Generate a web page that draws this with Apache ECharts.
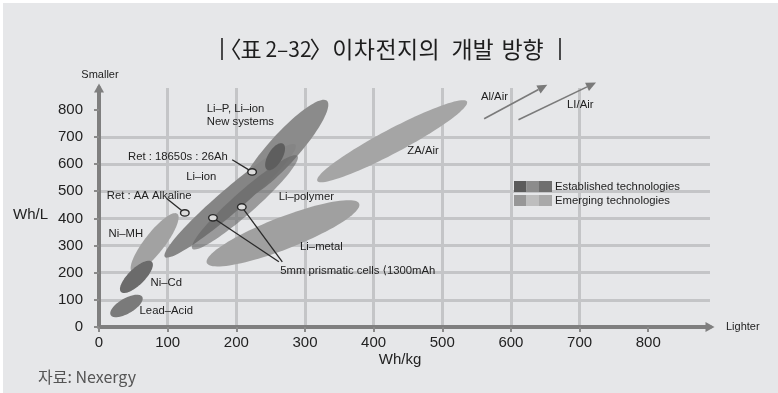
<!DOCTYPE html>
<html>
<head>
<meta charset="utf-8">
<script src="https://cdn.jsdelivr.net/npm/echarts@6/dist/echarts.min.js"></script>
<style>html,body{margin:0;padding:0;background:#fff}#c{width:778px;height:393px}</style>
</head>
<body>
<div id="c"></div>
<script>
// ---------- data ----------
const xTicks = [0, 100, 200, 300, 400, 500, 600, 700, 800];
const yTicks = [0, 100, 200, 300, 400, 500, 600, 700, 800];

// ellipses: tips of the long axis (Wh/kg, Wh/L) and half thickness (Wh/L)
const ellipseNames = ['Li–P, Li–ion New systems', 'Li–ion', 'Li–polymer', '18650s 26Ah', 'Li–metal', 'Ni–MH', 'Ni–Cd', 'Lead–Acid', 'ZA/Air'];
const ellipseTipA = [[205, 476], [96, 258], [136, 288], [245, 579], [157, 236], [48, 203], [32, 129], [17, 44], [318, 538]];
const ellipseTipB = [[332, 833], [286, 671], [289, 630], [268, 675], [379, 454], [114, 417], [77, 240], [63, 111], [536, 830]];
const ellipseHalfWidth = [55, 44, 41, 26, 59, 37, 30, 28, 44];

// reference points (small circles) and where their leader lines go
const markerNames = ['Ret : AA Alkaline', 'Ret : 18650s : 26Ah', '5mm prismatic cells', '5mm prismatic cells'];
const markerPoints = [[125, 420], [223, 571], [166, 402], [208, 442]];
const leaderEnds = [[99, 472], [194, 616], [262, 240], [267, 240]];

// arrows for Al/Air and Li/Air
const arrowNames = ['Al/Air', 'LI/Air'];
const arrowStarts = [[561, 767], [611, 763]];
const arrowEnds = [[653, 892], [724, 900]];

// text annotations
const labelTexts = ['Li–P, Li–ion\nNew systems', 'Ret : 18650s : 26Ah', 'Li–ion', 'Ret : AA Alkaline', 'Li–polymer', 'Ni–MH', 'Li–metal', '5mm prismatic cells ⟨1300mAh', 'Ni–Cd', 'Lead–Acid', 'ZA/Air', 'Al/Air', 'LI/Air'];
const labelAnchors = [[157, 778], [115, 627], [149, 553], [73, 483], [302, 479], [39, 343], [324, 295], [264, 206], [98, 162], [98, 59], [472, 649], [576, 848], [701, 818]];

// title pieces
const titlePieces = ['〈', '표', '2–32', '〉', '이', '차', '전', '지', '의', '개', '발', '방', '향'];

// ---------- styles ----------
const ellipseFill = {
  'Li–P, Li–ion New systems': '#8b8b8b',
  'Li–ion': '#858585',
  'Li–polymer': 'rgba(100,100,100,0.585)',
  '18650s 26Ah': '#5e5e5e',
  'Li–metal': '#a0a0a0',
  'Ni–MH': '#a2a2a2',
  'Ni–Cd': '#6b6b6b',
  'Lead–Acid': '#7a7a7a',
  'ZA/Air': '#a5a5a5'
};
const leftAligned = {'Li–P, Li–ion\nNew systems': true, '5mm prismatic cells ⟨1300mAh': true};
const titlePieceX = [230, 251, 288.5, 321, 342.8, 364.4, 386, 407.6, 429.2, 462, 483, 512, 533];
const titlePieceSize = [23, 23, 21, 23, 23, 23, 23, 23, 23, 23, 23, 23, 23];
const LATIN = '"Liberation Sans", "DejaVu Sans", Arial, sans-serif';
const KOREAN = '"Noto Sans CJK KR", sans-serif';

const chart = echarts.init(document.getElementById('c'), null, {renderer: 'canvas', width: 778, height: 393});

const ellipseData = ellipseNames.map((n, i) => ({name: n, value: [ellipseTipA[i][0], ellipseTipA[i][1], ellipseTipB[i][0], ellipseTipB[i][1], ellipseHalfWidth[i]]}));
const markerData = markerNames.map((n, i) => ({name: n, value: [markerPoints[i][0], markerPoints[i][1], leaderEnds[i][0], leaderEnds[i][1]]}));
const arrowData = arrowNames.map((n, i) => ({name: n, value: [arrowStarts[i][0], arrowStarts[i][1], arrowEnds[i][0], arrowEnds[i][1]]}));
const labelData = labelTexts.map((t, i) => ({name: t, value: labelAnchors[i]}));

function renderEllipse(params, api) {
  const a = api.coord([api.value(0), api.value(1)]);
  const b = api.coord([api.value(2), api.value(3)]);
  const hw = Math.abs(api.size([0, api.value(4)])[1]);
  const cx = (a[0] + b[0]) / 2, cy = (a[1] + b[1]) / 2;
  const dx = (b[0] - a[0]) / 2, dy = (b[1] - a[1]) / 2;
  const L = Math.hypot(dx, dy);
  const px = -dy / L, py = dx / L;
  const pts = [];
  for (let i = 0; i < 96; i++) {
    const t = i / 96 * Math.PI * 2;
    pts.push([cx + Math.cos(t) * dx + Math.sin(t) * hw * px, cy + Math.cos(t) * dy + Math.sin(t) * hw * py]);
  }
  const name = ellipseNames[params.dataIndex];
  return {type: 'polygon', shape: {points: pts}, style: {fill: ellipseFill[name], stroke: null}};
}

function renderMarker(params, api) {
  const p = api.coord([api.value(0), api.value(1)]);
  const q = api.coord([api.value(2), api.value(3)]);
  return {type: 'group', children: [
    {type: 'line', shape: {x1: p[0], y1: p[1], x2: q[0], y2: q[1]}, style: {stroke: '#2a2a2a', lineWidth: 1.3}},
    {type: 'ellipse', shape: {cx: p[0], cy: p[1], rx: 4.3, ry: 3.2}, style: {fill: '#dcdcdc', stroke: '#2a2a2a', lineWidth: 1.4}}
  ]};
}

function renderArrow(params, api) {
  const p = api.coord([api.value(0), api.value(1)]);
  const q = api.coord([api.value(2), api.value(3)]);
  const dx = q[0] - p[0], dy = q[1] - p[1];
  const L = Math.hypot(dx, dy);
  const ux = dx / L, uy = dy / L;
  const hl = 10, hw = 4.5;
  const bx = q[0] - ux * hl, by = q[1] - uy * hl;
  return {type: 'group', children: [
    {type: 'line', shape: {x1: p[0], y1: p[1], x2: bx, y2: by}, style: {stroke: '#7a7a7a', lineWidth: 1.6}},
    {type: 'polygon', shape: {points: [[q[0], q[1]], [bx - uy * hw, by + ux * hw], [bx + uy * hw, by - ux * hw]]}, style: {fill: '#7a7a7a'}}
  ]};
}

function renderLabel(params, api) {
  const p = api.coord([api.value(0), api.value(1)]);
  const text = labelTexts[params.dataIndex];
  return {type: 'text', x: p[0], y: p[1], style: {
    text: text, fill: '#222', fontSize: 11.3, fontFamily: LATIN, lineHeight: 13,
    align: leftAligned[text] ? 'left' : 'center', verticalAlign: 'middle'
  }};
}

const axisCommon = {
  type: 'value', min: 0, interval: 100,
  axisLine: {show: true, symbol: ['none', 'triangle'], symbolSize: [10, 9], lineStyle: {color: '#7f7f7f', width: 4}},
  axisTick: {show: true, length: 5, lineStyle: {color: '#8a8a8a', width: 2}},
  axisLabel: {color: '#222', fontSize: 15, fontFamily: LATIN, formatter: v => (v > 800 ? '' : String(v))},
  splitLine: {show: true, showMinLine: false, showMaxLine: false, lineStyle: {color: '#c4c5c7', width: 3}}
};

const titleGraphics = titlePieces.map((t, i) => ({
  type: 'text', x: titlePieceX[i], y: 49,
  style: {text: t, fill: '#1e1e1e', fontSize: titlePieceSize[i], fontFamily: KOREAN, align: 'center', verticalAlign: 'middle'}, z: 10
}));

const option = {
  backgroundColor: '#e6e7e9',
  animation: false,
  grid: {left: 99, right: 68, top: 88, bottom: 66, containLabel: false},
  xAxis: Object.assign({}, axisCommon, {
    max: 890,
    axisLabel: Object.assign({}, axisCommon.axisLabel, {margin: 8, customValues: xTicks}),
    axisTick: Object.assign({}, axisCommon.axisTick, {customValues: xTicks})
  }),
  yAxis: Object.assign({}, axisCommon, {
    max: 880,
    axisLabel: Object.assign({}, axisCommon.axisLabel, {margin: 16, customValues: yTicks}),
    axisTick: Object.assign({}, axisCommon.axisTick, {customValues: yTicks})
  }),
  series: [
    {type: 'custom', name: 'ellipses', renderItem: renderEllipse, data: ellipseData, encode: {x: [0, 2], y: [1, 3]}, clip: false, z: 3, silent: true},
    {type: 'custom', name: 'markers', renderItem: renderMarker, data: markerData, encode: {x: [0, 2], y: [1, 3]}, clip: false, z: 4, silent: true},
    {type: 'custom', name: 'arrows', renderItem: renderArrow, data: arrowData, encode: {x: [0, 2], y: [1, 3]}, clip: false, z: 4, silent: true},
    {type: 'custom', name: 'labels', renderItem: renderLabel, data: labelData, encode: {x: 0, y: 1}, clip: false, z: 5, silent: true}
  ],
  graphic: [
    {type: 'rect', shape: {x: 0, y: 0, width: 778, height: 3}, style: {fill: '#fff'}, z: 100},
    {type: 'rect', shape: {x: 0, y: 0, width: 3, height: 393}, style: {fill: '#fff'}, z: 100},
    // title bars
    {type: 'line', shape: {x1: 222, y1: 38, x2: 222, y2: 60}, style: {stroke: '#222', lineWidth: 1.6}, z: 10},
    {type: 'line', shape: {x1: 560, y1: 38, x2: 560, y2: 60}, style: {stroke: '#222', lineWidth: 1.6}, z: 10}
  ].concat(titleGraphics).concat([
    // axis names
    {type: 'text', x: 100, y: 75, style: {text: 'Smaller', fill: '#222', fontSize: 11, fontFamily: LATIN, align: 'center', verticalAlign: 'middle'}, z: 10},
    {type: 'text', x: 726, y: 327, style: {text: 'Lighter', fill: '#222', fontSize: 11, fontFamily: LATIN, align: 'left', verticalAlign: 'middle'}, z: 10},
    {type: 'text', x: 13, y: 215, style: {text: 'Wh/L', fill: '#222', fontSize: 15, fontFamily: LATIN, align: 'left', verticalAlign: 'middle'}, z: 10},
    {type: 'text', x: 400, y: 360, style: {text: 'Wh/kg', fill: '#222', fontSize: 15, fontFamily: LATIN, align: 'center', verticalAlign: 'middle'}, z: 10},
    // source
    {type: 'text', x: 38, y: 377, style: {text: '자료: Nexergy', fill: '#555', fontSize: 16, fontFamily: KOREAN, align: 'left', verticalAlign: 'middle'}, z: 10},
    // legend
    {type: 'rect', shape: {x: 514, y: 181, width: 12.5, height: 11}, style: {fill: '#5b5b5b'}, z: 10},
    {type: 'rect', shape: {x: 526.5, y: 181, width: 12.5, height: 11}, style: {fill: '#8c8c8c'}, z: 10},
    {type: 'rect', shape: {x: 539, y: 181, width: 13, height: 11}, style: {fill: '#6f6f6f'}, z: 10},
    {type: 'rect', shape: {x: 514, y: 195, width: 12.5, height: 11}, style: {fill: '#979797'}, z: 10},
    {type: 'rect', shape: {x: 526.5, y: 195, width: 12.5, height: 11}, style: {fill: '#bebebe'}, z: 10},
    {type: 'rect', shape: {x: 539, y: 195, width: 13, height: 11}, style: {fill: '#a9a9a9'}, z: 10},
    {type: 'text', x: 555, y: 187, style: {text: 'Established technologies', fill: '#222', fontSize: 11.3, fontFamily: LATIN, align: 'left', verticalAlign: 'middle'}, z: 10},
    {type: 'text', x: 555, y: 201, style: {text: 'Emerging technologies', fill: '#222', fontSize: 11.3, fontFamily: LATIN, align: 'left', verticalAlign: 'middle'}, z: 10}
  ])
};
chart.setOption(option);
</script>
</body>
</html>
